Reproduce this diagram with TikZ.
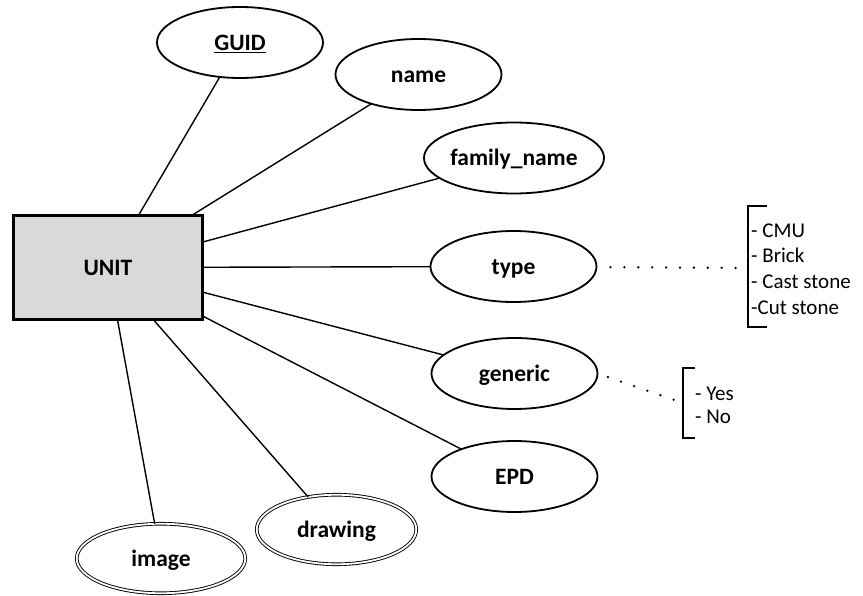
\documentclass[tikz,border=0pt]{standalone}
\usepackage{fontspec}
\setmainfont{Carlito}
\usetikzlibrary{shapes.geometric}
\tikzset{
  entity/.style={draw,line width=2.6pt,fill=black!15,minimum width=189pt,minimum height=104pt,
    inner sep=0pt,outer sep=0pt,font=\fontsize{23.5}{28}\selectfont\bfseries},
  attr/.style={ellipse,draw,line width=1.8pt,minimum width=166pt,minimum height=71pt,
    inner sep=0pt,outer sep=0pt,text height=20pt,text depth=4pt,
    font=\fontsize{23.5}{28}\selectfont\bfseries},
  multiattr/.style={attr,line width=0.9pt,double,double distance=1.8pt},
  link/.style={line width=1.4pt},
  dots/.style={line width=2.6pt,line cap=round,dash pattern=on 0pt off 13.9pt},
  bracket/.style={line width=2pt},
  vallist/.style={anchor=west,align=left,inner sep=0pt,font=\fontsize{21}{25.7}\selectfont}
}
\begin{document}
\begin{tikzpicture}[x=1pt,y=-1pt]
  \useasboundingbox (0,0) rectangle (863,596);
  \node[entity] (unit) at (108,267.5) {UNIT};
  \node[attr] (guid) at (240,42.5) {\underline{GUID}};
  \node[attr] (name) at (418.5,74.5) {name};
  \node[attr] (family) at (514,158) {family\_name};
  \node[attr] (type) at (513.5,266.5) {type};
  \node[attr] (generic) at (514.5,373.5) {generic};
  \node[attr] (epd) at (514.5,476.5) {EPD};
  \node[multiattr,minimum width=159.5pt,minimum height=69.5pt] (drawing) at (336.5,529.5) {drawing};
  \node[multiattr,minimum width=168.5pt,minimum height=69.5pt] (image) at (161,558.5) {image};
  \node[vallist] (typevals) at (751,269) {- CMU\\- Brick\\- Cast stone\\-Cut stone};
  \node[vallist,font=\fontsize{21}{22.5}\selectfont] (genericvals) at (695,405.5) {- Yes\\- No};
  \coordinate (typebr) at (748,268);
  \coordinate (genericbr) at (683,403);
  \begin{scope}[link]
    \draw (unit) -- (guid);
    \draw (unit) -- (name);
    \draw (unit) -- (family);
    \draw (unit) -- (type);
    \draw (unit) -- (generic);
    \draw (unit) -- (epd);
    \draw (unit) -- (drawing);
    \draw (unit) -- (image);
  \end{scope}
  \draw[dots,shorten <=14pt,shorten >=11pt] (type) -- (typebr);
  \draw[dots,shorten <=11pt,shorten >=8pt] (generic.east) -- (genericbr);
  \draw[bracket] (767,206) -- (748,206) -- (748,327) -- (767,327);
  \draw[bracket] (695,368) -- (683,368) -- (683,438) -- (695,438);
\end{tikzpicture}
\end{document}
